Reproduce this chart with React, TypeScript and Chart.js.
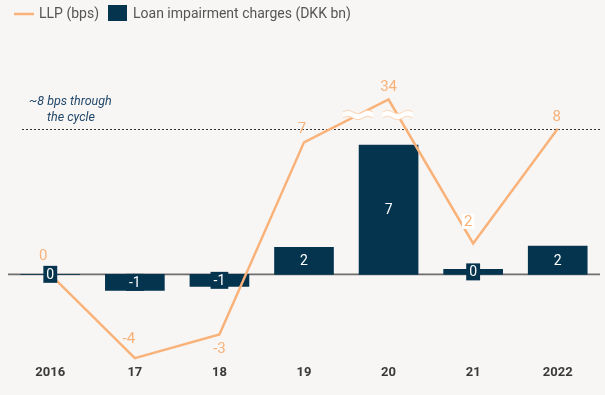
import React, { useEffect, useRef } from 'react';
import { Chart, registerables } from 'chart.js';

Chart.register(...registerables);

// ---- data ----
const categories = ['2016', '17', '18', '19', '20', '21', '2022'];
const impairmentValues = [0, -0.88, -0.66, 1.48, 7.1, 0.27, 1.55];
const impairmentLabels = ['0', '-1', '-1', '2', '7', '0', '2'];
// LLP positions on the (broken) axis, and their printed values
const llpValues = [0, -4.6, -3.3, 7.25, 9.6, 1.7, 8.0];
const llpLabels = ['0', '-4', '-3', '7', '34', '2', '8'];
const cycleLevel = 8;
const breakLevel = 8.75;
const breakIndex = 4;

// ---- styles ----
const BG = '#f8f6f4';
const NAVY = '#05344f';
const ORANGE = '#f9b27a';
const FONT = 'Roboto, "DejaVu Sans", sans-serif';
const llpLabelOffsets: [number, number][] = [
  [-7, -19], [-6, -20], [0, 14], [-2, -14], [0, -13], [-5, -22], [-1, -12],
];
const llpLabelBoxed = [false, false, false, false, false, true, false];

const bgPlugin = {
  id: 'bgPlugin',
  beforeDraw(chart: any) {
    const { ctx, width, height } = chart;
    ctx.save();
    ctx.fillStyle = BG;
    ctx.fillRect(0, 0, width, height);
    ctx.restore();
  },
};

const underlayPlugin = {
  id: 'underlayPlugin',
  beforeDatasetsDraw(chart: any) {
    const { ctx, chartArea, scales } = chart;
    const y = scales.y;
    ctx.save();
    // zero line
    const y0 = y.getPixelForValue(0);
    ctx.strokeStyle = '#6e6e6e';
    ctx.lineWidth = 1.6;
    ctx.beginPath();
    ctx.moveTo(chartArea.left, y0);
    ctx.lineTo(chartArea.right, y0);
    ctx.stroke();
    // dotted cycle line
    const yc = Math.round(y.getPixelForValue(cycleLevel)) + 0.5;
    ctx.strokeStyle = '#333';
    ctx.lineWidth = 1;
    ctx.setLineDash([2, 2]);
    ctx.beginPath();
    ctx.moveTo(22, yc);
    ctx.lineTo(chartArea.right, yc);
    ctx.stroke();
    ctx.setLineDash([]);
    // annotation
    ctx.fillStyle = '#24496b';
    ctx.font = `italic 12.5px ${FONT}`;
    ctx.textBaseline = 'middle';
    ctx.textAlign = 'left';
    ctx.fillText('~8 bps through', 29, yc - 28);
    ctx.fillText('the cycle', 47, yc - 12);
    ctx.restore();
  },
};

function drawWave(ctx: CanvasRenderingContext2D, cx: number, cy: number, w: number) {
  const pts = (off: number) => {
    const arr: [number, number][] = [];
    for (let t = 0; t <= w; t++) {
      const x = cx - w / 2 + t;
      const yy = cy + off - 1.6 * Math.sin((t / w) * Math.PI * 3);
      arr.push([x, yy]);
    }
    return arr;
  };
  const top = pts(-3);
  const bot = pts(3);
  ctx.beginPath();
  top.forEach(([x, yy], i) => (i ? ctx.lineTo(x, yy) : ctx.moveTo(x, yy)));
  for (let i = bot.length - 1; i >= 0; i--) ctx.lineTo(bot[i][0], bot[i][1]);
  ctx.closePath();
  ctx.fillStyle = '#ffffff';
  ctx.fill();
  ctx.strokeStyle = '#fbd3b0';
  ctx.lineWidth = 1;
  [top, bot].forEach((arr) => {
    ctx.beginPath();
    arr.forEach(([x, yy], i) => (i ? ctx.lineTo(x, yy) : ctx.moveTo(x, yy)));
    ctx.stroke();
  });
}

const overlayPlugin = {
  id: 'overlayPlugin',
  afterDatasetsDraw(chart: any) {
    const { ctx, scales } = chart;
    const y = scales.y;
    const lineMeta = chart.getDatasetMeta(0);
    const barMeta = chart.getDatasetMeta(1);
    ctx.save();

    // axis break marks
    const yb = y.getPixelForValue(breakLevel);
    [[breakIndex - 1, breakIndex], [breakIndex, breakIndex + 1]].forEach(([a, b]) => {
      const pa = lineMeta.data[a];
      const pb = lineMeta.data[b];
      const t = (yb - pa.y) / (pb.y - pa.y);
      const xb = pa.x + t * (pb.x - pa.x);
      drawWave(ctx, xb, yb, 30);
    });

    // bar labels
    ctx.font = `14px ${FONT}`;
    ctx.textAlign = 'center';
    ctx.textBaseline = 'middle';
    barMeta.data.forEach((bar: any, i: number) => {
      const y0 = y.getPixelForValue(0);
      const mid = (bar.y + y0) / 2;
      const txt = impairmentLabels[i];
      const w = ctx.measureText(txt).width + 6;
      ctx.fillStyle = NAVY;
      ctx.fillRect(bar.x - w / 2, mid - 8.5, w, 17);
      ctx.fillStyle = '#ffffff';
      ctx.fillText(txt, bar.x, mid + 1);
    });

    // line labels
    ctx.font = `15px ${FONT}`;
    lineMeta.data.forEach((pt: any, i: number) => {
      const [dx, dy] = llpLabelOffsets[i];
      const x = pt.x + dx;
      const yy = pt.y + dy;
      const txt = llpLabels[i];
      if (llpLabelBoxed[i]) {
        const w = ctx.measureText(txt).width + 4;
        ctx.fillStyle = '#ffffff';
        ctx.fillRect(x - w / 2, yy - 7.5, w, 15);
      }
      ctx.fillStyle = ORANGE;
      ctx.fillText(txt, x, yy + 1);
    });

    // legend
    ctx.strokeStyle = ORANGE;
    ctx.lineWidth = 2.5;
    ctx.beginPath();
    ctx.moveTo(14, 14);
    ctx.lineTo(34, 14);
    ctx.stroke();
    ctx.fillStyle = '#555555';
    ctx.font = `14px ${FONT}`;
    ctx.textAlign = 'left';
    ctx.fillText('LLP (bps)', 39, 14);
    ctx.fillStyle = NAVY;
    ctx.fillRect(108, 5, 19, 16);
    ctx.fillStyle = '#555555';
    ctx.fillText('Loan impairment charges (DKK bn)', 133, 14);

    ctx.restore();
  },
};

export default function App() {
  const ref = useRef<HTMLCanvasElement>(null);
  useEffect(() => {
    if (!ref.current) return;
    const chart = new Chart(ref.current, {
      type: 'bar',
      data: {
        labels: categories,
        datasets: [
          {
            type: 'line',
            label: 'LLP (bps)',
            data: llpValues,
            borderColor: ORANGE,
            borderWidth: 2.5,
            pointRadius: 0,
            tension: 0,
            order: 1,
          } as any,
          {
            type: 'bar',
            label: 'Loan impairment charges (DKK bn)',
            data: impairmentValues,
            backgroundColor: NAVY,
            barThickness: 59,
            order: 2,
          },
        ],
      },
      options: {
        animation: false,
        responsive: false,
        maintainAspectRatio: false,
        layout: { padding: { top: 74, bottom: 14, left: 8, right: 5 } },
        plugins: { legend: { display: false }, tooltip: { enabled: false } },
        scales: {
          x: {
            grid: { display: false, drawTicks: false },
            border: { display: false },
            ticks: {
              color: '#3a3a3a',
              font: { family: FONT, size: 13, weight: 'bold' },
              padding: 0,
            },
          },
          y: { display: false, min: -5, max: 11 },
        },
      },
      plugins: [bgPlugin, underlayPlugin, overlayPlugin],
    });
    return () => chart.destroy();
  }, []);
  return (
    <div style={{ position: 'fixed', left: 0, top: 0, width: 605, height: 395, background: BG }}>
      <canvas ref={ref} width={605} height={395} style={{ display: 'block' }} />
    </div>
  );
}
